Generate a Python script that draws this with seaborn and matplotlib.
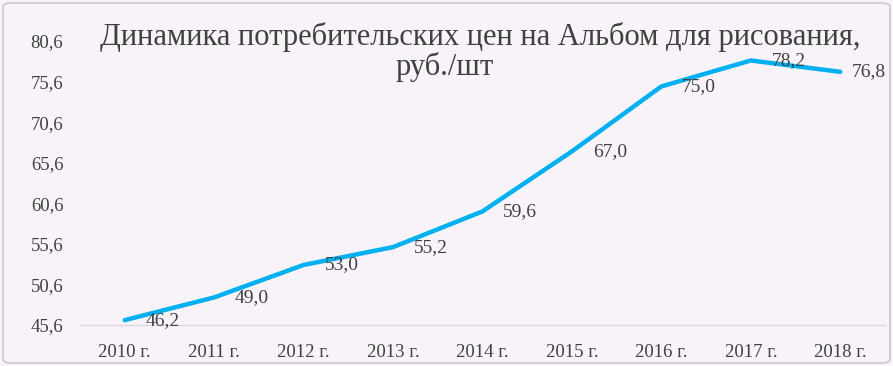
import matplotlib
matplotlib.use("Agg")
import matplotlib.pyplot as plt
import seaborn as sns
import pandas as pd
from matplotlib.patches import FancyBboxPatch

years = ["2010 г.", "2011 г.", "2012 г.", "2013 г.", "2014 г.", "2015 г.", "2016 г.", "2017 г.", "2018 г."]
prices = [46.2, 49.0, 53.0, 55.2, 59.6, 67.0, 75.0, 78.2, 76.8]
yticks = [45.6, 50.6, 55.6, 60.6, 65.6, 70.6, 75.6, 80.6]
title_line1 = "Динамика потребительских цен на Альбом для рисования,"
title_line2 = "руб./шт"

sns.set_theme(style="white")
plt.rcParams["font.family"] = ["Liberation Serif", "DejaVu Serif"]
bg = "#F8F3F9"
txt = "#404040"

fig = plt.figure(figsize=(8.93, 3.66), dpi=100, facecolor=bg)
ax = fig.add_axes([80/893, 41/366, 805/893, 284/366])
ax.set_facecolor(bg)

df = pd.DataFrame({"x": range(len(years)), "y": prices})
sns.lineplot(data=df, x="x", y="y", ax=ax, color="#00B0F0", linewidth=3.2,
             solid_capstyle="round", solid_joinstyle="round")

for i, v in enumerate(prices):
    dx = 15 if i < len(prices) - 1 else 8
    ax.annotate(f"{v:.1f}".replace(".", ","), (i, v), xytext=(dx, 0), textcoords="offset points",
                ha="left", va="center", fontsize=14, color=txt)

ax.set_xlim(-0.5, len(years) - 0.5)
ax.set_ylim(yticks[0], yticks[-1])
ax.set_xticks(range(len(years)))
ax.set_xticklabels(years, fontsize=13.5, color=txt)
ax.set_yticks(yticks)
ax.set_yticklabels([f"{t:.1f}".replace(".", ",") for t in yticks], fontsize=13.5, color=txt)
ax.tick_params(axis="x", length=0, pad=14)
ax.tick_params(axis="y", length=0, pad=12)
ax.set_xlabel("")
ax.set_ylabel("")
for s in ["top", "right", "left"]:
    ax.spines[s].set_visible(False)
ax.spines["bottom"].set_color("#D9D9D9")
ax.spines["bottom"].set_linewidth(1)

fig.text(480/893, 1 - 33/366, title_line1, ha="center", va="center_baseline", fontsize=22, color=txt)
fig.text(445/893, 1 - 63/366, title_line2, ha="center", va="center_baseline", fontsize=22, color=txt)

border = FancyBboxPatch((3/893, 3/366), 887/893, 360/366, boxstyle="round,pad=0,rounding_size=0.01",
                        transform=fig.transFigure, fill=False, edgecolor="#D0D0D0", linewidth=1.5)
fig.patches.append(border)

fig.savefig("out.png", dpi=100, facecolor=bg)
